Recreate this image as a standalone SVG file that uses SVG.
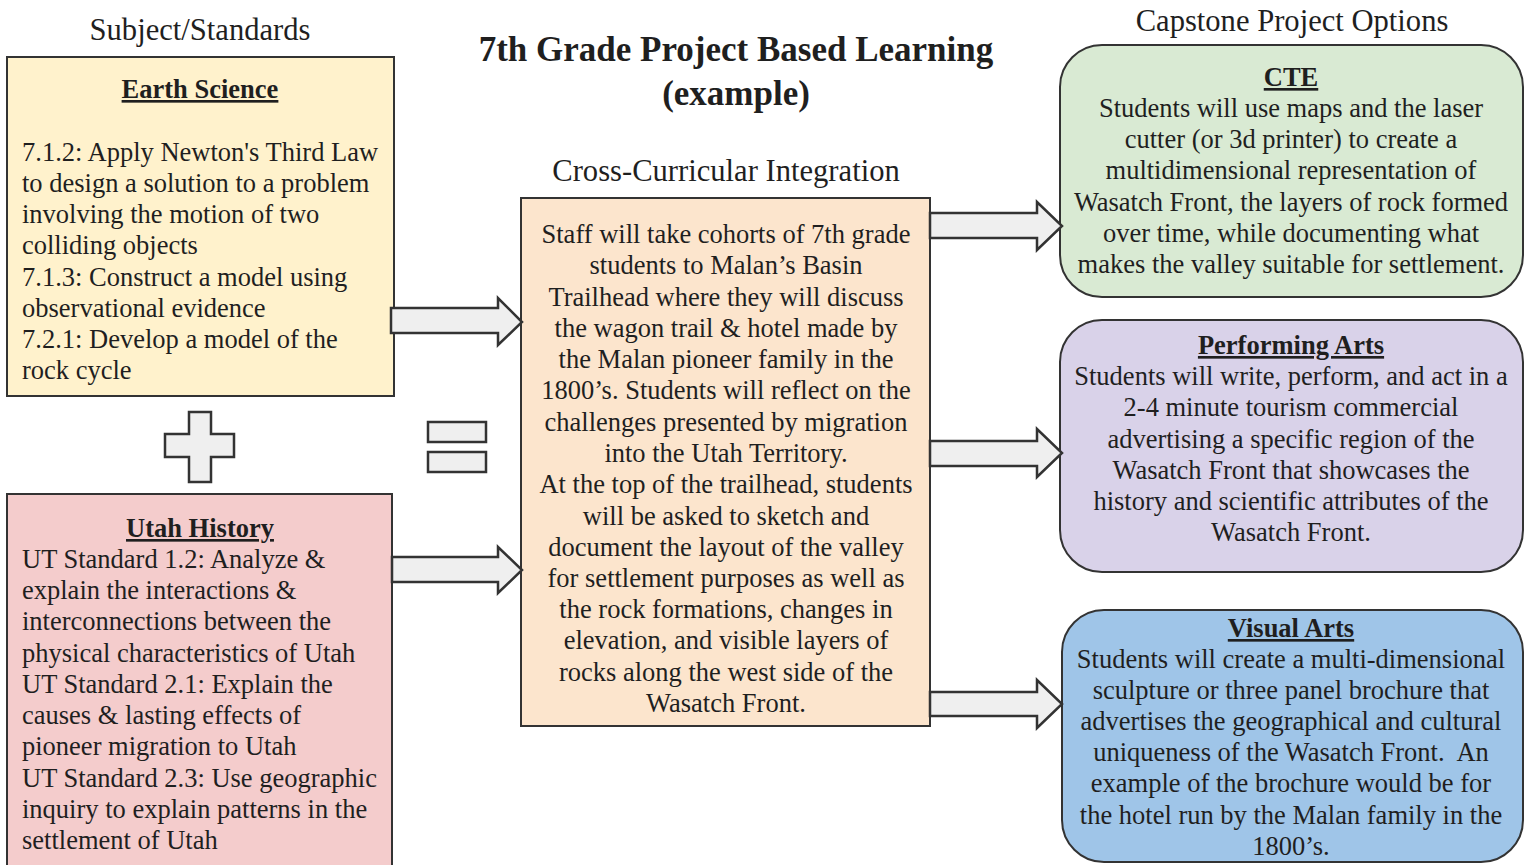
<svg xmlns="http://www.w3.org/2000/svg" width="1530" height="865" viewBox="0 0 1530 865">
<style>
text{font-family:"Liberation Serif","Times New Roman",serif;fill:#1f1f1f;font-size:26.5px}
.c{text-anchor:middle}
.h{font-weight:bold;text-decoration:underline;text-anchor:middle}
.t{font-size:30.6px;text-anchor:middle}
.big{font-size:35px;font-weight:bold;text-anchor:middle}
.box{stroke:#333;stroke-width:2}
.shape{fill:#efefef;stroke:#333;stroke-width:2.5}
</style>
<rect width="1530" height="865" fill="#fff"/>
<g id="titles">
<text class="t" x="200" y="40">Subject/Standards</text>
<text class="big" x="736" y="61">7th Grade Project Based Learning</text>
<text class="big" x="736" y="105">(example)</text>
<text class="t" x="726" y="181">Cross-Curricular Integration</text>
<text class="t" x="1292" y="31">Capstone Project Options</text>
</g>
<g id="earth">
<rect class="box" x="7" y="57" width="387" height="339" fill="#fff2cc"/>
<text class="h" x="200" y="98">Earth Science</text>
<text x="22" y="161">7.1.2: Apply Newton's Third Law</text>
<text x="22" y="192">to design a solution to a problem</text>
<text x="22" y="223">involving the motion of two</text>
<text x="22" y="254">colliding objects</text>
<text x="22" y="286">7.1.3: Construct a model using</text>
<text x="22" y="317">observational evidence</text>
<text x="22" y="348">7.2.1: Develop a model of the</text>
<text x="22" y="379">rock cycle</text>
</g>
<g id="utah">
<rect class="box" x="7" y="494" width="385" height="380" fill="#f4cccc"/>
<text class="h" x="200" y="537">Utah History</text>
<text x="22" y="568">UT Standard 1.2: Analyze &amp;</text>
<text x="22" y="599">explain the interactions &amp;</text>
<text x="22" y="630">interconnections between the</text>
<text x="22" y="662">physical characteristics of Utah</text>
<text x="22" y="693">UT Standard 2.1: Explain the</text>
<text x="22" y="724">causes &amp; lasting effects of</text>
<text x="22" y="755">pioneer migration to Utah</text>
<text x="22" y="787">UT Standard 2.3: Use geographic</text>
<text x="22" y="818">inquiry to explain patterns in the</text>
<text x="22" y="849">settlement of Utah</text>
</g>
<g id="plus">
<path class="shape" d="M189,412 H211 V434 H234 V457 H211 V482 H189 V457 H165 V434 H189 Z"/>
</g>
<g id="equals">
<rect class="shape" x="428" y="422" width="58" height="20"/>
<rect class="shape" x="428" y="452" width="58" height="20"/>
</g>
<g id="center">
<rect class="box" x="521" y="198" width="409" height="528" fill="#fce5cd"/>
<text class="c" x="726" y="243">Staff will take cohorts of 7th grade</text>
<text class="c" x="726" y="274">students to Malan’s Basin</text>
<text class="c" x="726" y="306">Trailhead where they will discuss</text>
<text class="c" x="726" y="337">the wagon trail &amp; hotel made by</text>
<text class="c" x="726" y="368">the Malan pioneer family in the</text>
<text class="c" x="726" y="399">1800’s. Students will reflect on the</text>
<text class="c" x="726" y="431">challenges presented by migration</text>
<text class="c" x="726" y="462">into the Utah Territory.</text>
<text class="c" x="726" y="493">At the top of the trailhead, students</text>
<text class="c" x="726" y="525">will be asked to sketch and</text>
<text class="c" x="726" y="556">document the layout of the valley</text>
<text class="c" x="726" y="587">for settlement purposes as well as</text>
<text class="c" x="726" y="618">the rock formations, changes in</text>
<text class="c" x="726" y="649">elevation, and visible layers of</text>
<text class="c" x="726" y="681">rocks along the west side of the</text>
<text class="c" x="726" y="712">Wasatch Front.</text>
</g>
<g id="cte">
<rect class="box" x="1060" y="45" width="463" height="252" rx="42" fill="#d9ead3"/>
<text class="h" x="1291" y="86">CTE</text>
<text class="c" x="1291" y="117">Students will use maps and the laser</text>
<text class="c" x="1291" y="148">cutter (or 3d printer) to create a</text>
<text class="c" x="1291" y="179">multidimensional representation of</text>
<text class="c" x="1291" y="211">Wasatch Front, the layers of rock formed</text>
<text class="c" x="1291" y="242">over time, while documenting what</text>
<text class="c" x="1291" y="273">makes the valley suitable for settlement.</text>
</g>
<g id="performing">
<rect class="box" x="1060" y="320" width="463" height="252" rx="42" fill="#d9d2e9"/>
<text class="h" x="1291" y="354">Performing Arts</text>
<text class="c" x="1291" y="385">Students will write, perform, and act in a</text>
<text class="c" x="1291" y="416">2-4 minute tourism commercial</text>
<text class="c" x="1291" y="448">advertising a specific region of the</text>
<text class="c" x="1291" y="479">Wasatch Front that showcases the</text>
<text class="c" x="1291" y="510">history and scientific attributes of the</text>
<text class="c" x="1291" y="541">Wasatch Front.</text>
</g>
<g id="visual">
<rect class="box" x="1062" y="610" width="461" height="252" rx="42" fill="#9fc5e8"/>
<text class="h" x="1291" y="637">Visual Arts</text>
<text class="c" x="1291" y="668">Students will create a multi-dimensional</text>
<text class="c" x="1291" y="699">sculpture or three panel brochure that</text>
<text class="c" x="1291" y="730">advertises the geographical and cultural</text>
<text class="c" x="1291" y="761" xml:space="preserve">uniqueness of the Wasatch Front.  An</text>
<text class="c" x="1291" y="792">example of the brochure would be for</text>
<text class="c" x="1291" y="824">the hotel run by the Malan family in the</text>
<text class="c" x="1291" y="855">1800’s.</text>
</g>
<g id="connectors">
<path class="shape" d="M391,308 H498 V298 L522,322 L498,345 V333 H391 Z"/>
<path class="shape" d="M392,557 H498 V547 L522,570 L498,593 V582 H392 Z"/>
<path class="shape" d="M930,213 H1037 V202 L1062,226 L1037,250 V238 H930 Z"/>
<path class="shape" d="M930,441 H1037 V429 L1062,453 L1037,477 V466 H930 Z"/>
<path class="shape" d="M930,692 H1037 V680 L1062,704 L1037,728 V716 H930 Z"/>
</g>
</svg>
